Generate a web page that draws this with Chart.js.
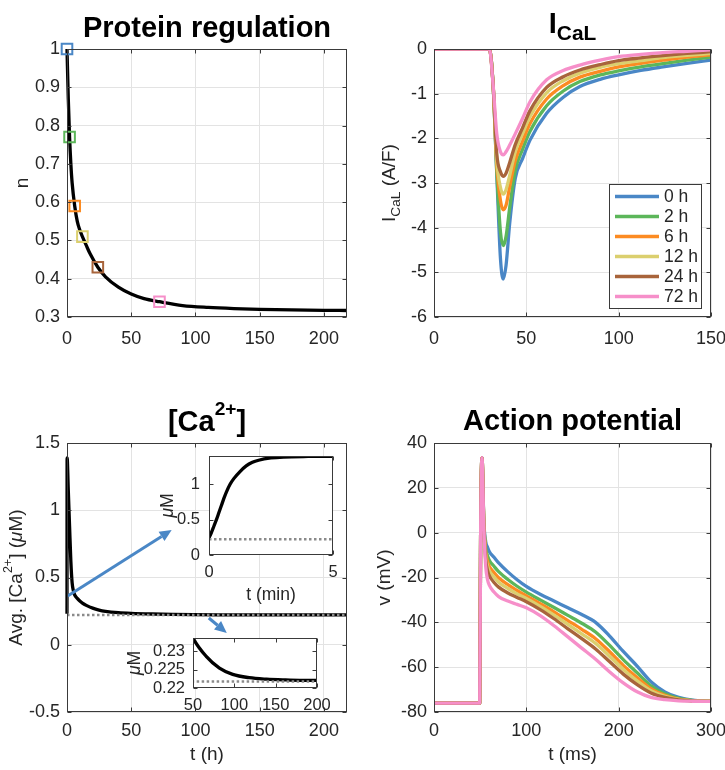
<!DOCTYPE html>
<html>
<head>
<meta charset="utf-8">
<script src="https://cdn.jsdelivr.net/npm/chart.js@4.4.1/dist/chart.umd.min.js"></script>
<style>
  html, body { margin: 0; padding: 0; background: #fff; }
  body { width: 725px; height: 770px; position: relative; overflow: hidden; }
  canvas { position: absolute; left: 0; top: 0; }
</style>
</head>
<body>
<canvas id="protein" width="800" height="850"></canvas>
<canvas id="ical" width="800" height="850"></canvas>
<canvas id="calcium" width="800" height="850"></canvas>
<canvas id="ap" width="800" height="850"></canvas>
<canvas id="insetMin" width="800" height="850"></canvas>
<canvas id="insetLate" width="800" height="850"></canvas>
<script>
// ---- data ----
const groupLabels = ['0 h', '2 h', '6 h', '12 h', '24 h', '72 h'];

// protein regulation factor n over time (h)
const nTime  = [0, 1, 2, 3, 4, 6, 8, 10, 12, 15, 18, 24, 30, 40, 50, 60, 72, 90, 110, 130, 150, 175, 200, 218];
const nValue = [1.0, 0.87, 0.77, 0.7, 0.65, 0.59, 0.55, 0.527, 0.51, 0.487, 0.465, 0.43, 0.405, 0.378, 0.36, 0.348, 0.34, 0.33, 0.325, 0.322, 0.32, 0.3185, 0.3175, 0.317];
const markerTime = [0, 2, 6, 12, 24, 72];
const markerN    = [1.0, 0.77, 0.59, 0.51, 0.43, 0.34];

// I_CaL (A/F) vs time (ms)
const icalTime = [0, 30, 32, 34, 36, 37.5, 39, 41, 44, 48, 52, 61, 70, 79, 90, 100, 112, 124, 137, 150];
const ical0h  = [0, 0, -0.8, -2.8, -4.7, -5.15, -4.85, -3.9, -2.9, -2.45, -2.04, -1.44, -1.08, -0.84, -0.68, -0.58, -0.48, -0.4, -0.32, -0.25];
const ical2h  = [0, 0, -0.8, -2.75, -4.1, -4.4, -4.2, -3.55, -2.72, -2.24, -1.84, -1.27, -0.94, -0.73, -0.58, -0.49, -0.4, -0.33, -0.25, -0.18];
const ical6h  = [0, 0, -0.8, -2.6, -3.4, -3.6, -3.5, -3.08, -2.5, -2.06, -1.67, -1.12, -0.82, -0.63, -0.5, -0.4, -0.32, -0.25, -0.18, -0.13];
const ical12h = [0, 0, -0.8, -2.5, -3.1, -3.25, -3.15, -2.83, -2.3, -1.89, -1.51, -0.98, -0.71, -0.54, -0.41, -0.33, -0.26, -0.19, -0.14, -0.1];
const ical24h = [0, 0, -0.8, -2.35, -2.75, -2.85, -2.78, -2.54, -2.14, -1.76, -1.38, -0.86, -0.62, -0.47, -0.35, -0.26, -0.2, -0.15, -0.1, -0.06];
const ical72h = [0, 0, -0.8, -1.9, -2.3, -2.37, -2.3, -2.15, -1.9, -1.55, -1.18, -0.69, -0.48, -0.36, -0.25, -0.17, -0.12, -0.08, -0.05, -0.02];

// average [Ca2+] (uM) vs time (h)
const caTime = [0, 0.08, 1, 2, 3, 4, 5, 6, 8, 10, 12, 15, 20, 25, 30, 40, 50, 66, 82, 98, 118, 139, 160, 179, 200, 218];
const caAvg  = [0.23, 1.39, 1.15, 0.88, 0.62, 0.46, 0.4, 0.37, 0.345, 0.325, 0.31, 0.293, 0.272, 0.258, 0.249, 0.239, 0.2336, 0.2286, 0.2254, 0.2237, 0.2228, 0.2224, 0.2222, 0.2221, 0.2221, 0.2221];
const caBaseline = 0.2218;
// first minutes (min)
const minTime = [0, 0.1, 0.2, 0.3, 0.4, 0.5, 0.6, 0.7, 0.85, 1, 1.25, 1.5, 1.75, 2, 2.5, 3, 4, 5];
const minCa   = [0.24, 0.32, 0.41, 0.5, 0.6, 0.7, 0.8, 0.89, 1.0, 1.08, 1.18, 1.26, 1.31, 1.34, 1.372, 1.386, 1.394, 1.396];
// arrows (data units of the [Ca2+] axes): tail -> head
const arrowTails = [[0.5, 0.362], [110.4, 0.199]];
const arrowHeads = [[81.5, 0.853], [124.4, 0.088]];

// action potential v (mV) vs time (ms)
const apTime = [0, 49.5, 50.5, 52, 54, 56, 58, 60, 65, 70, 80, 90, 100, 115, 130, 145, 160, 175, 190, 205, 220, 235, 250, 265, 280, 300];
const ap0h  = [-76, -76, 0, 33.5, 5, -4, -6.5, -8.5, -11, -13.5, -17.5, -21, -24, -27.5, -30.5, -33.5, -36.5, -40, -46, -53, -59.5, -66.5, -71, -73.5, -74.7, -75.2];
const ap2h  = [-76, -76, 0, 33.5, 4.2, -6.9, -10.3, -12.4, -15, -17.4, -20.9, -23.9, -26.5, -30, -33.4, -36.9, -40.4, -44.3, -50.2, -56.6, -62.5, -68.3, -71.9, -73.9, -74.8, -75.2];
const ap6h  = [-76, -76, 0, 33.5, 3.7, -8.8, -12.9, -15.1, -17.8, -20.1, -23.2, -25.8, -28.2, -31.7, -35.3, -39.2, -43.1, -47.3, -53, -59.2, -64.6, -69.6, -72.5, -74.2, -74.9, -75.2];
const ap12h = [-76, -76, 0, 33.5, 3.3, -10.3, -14.8, -17.1, -19.8, -22.1, -24.9, -27.3, -29.4, -32.9, -36.8, -40.9, -45.1, -49.4, -55.1, -61, -66.1, -70.5, -73, -74.4, -75, -75.2];
const ap24h = [-76, -76, 0, 33.5, 2.8, -11.9, -16.9, -19.3, -22.2, -24.3, -26.9, -28.9, -30.8, -34.3, -38.4, -42.9, -47.3, -51.9, -57.5, -63.1, -67.8, -71.5, -73.5, -74.6, -75.1, -75.3];
const ap72h = [-76, -76, 0, 33.5, 2, -15, -21, -23.5, -26.5, -28.5, -30.5, -32, -33.5, -37, -41.5, -46.5, -51.5, -56.5, -62, -67, -71, -73.5, -74.5, -75, -75.2, -75.3];

// tick values
const nTicksX = [0, 50, 100, 150, 200];
const nTicksY = [0.3, 0.4, 0.5, 0.6, 0.7, 0.8, 0.9, 1];
const icalTicksX = [0, 50, 100, 150];
const icalTicksY = [-6, -5, -4, -3, -2, -1, 0];
const caTicksX = [0, 50, 100, 150, 200];
const caTicksY = [-0.5, 0, 0.5, 1, 1.5];
const apTicksX = [0, 100, 200, 300];
const apTicksY = [-80, -60, -40, -20, 0, 20, 40];
const minTicksX = [0, 5];
const minTicksY = [0, 0.5, 1];
const lateTicksX = [50, 100, 150, 200];
const lateTicksY = [0.22, 0.225, 0.23];

// ---- styling ----
const W = 800, H = 850;
const FONT = '"Liberation Sans", Arial, Helvetica, sans-serif';
const INK = '#262626';
const COLORS = ['#4a87c6', '#5cb65a', '#fc8b22', '#dbcf6e', '#a8643b', '#f68fc9'];
const ARROW = '#4a87c6';
const LW = 3.3;

const pts = (xs, ys) => xs.map((x, i) => ({ x, y: ys[i] }));

// text with sub/superscripts, centred on (x, y) baseline
function rich(c, parts, x, y, size, weight, rotate, color) {
  const specs = parts.map(([t, k]) => {
    const s = k === 'sup' ? size * 0.66 : k === 'sub' ? size * 0.72 : size;
    return {
      t,
      font: `${k === 'it' ? 'italic ' : ''}${weight} ${s}px ${FONT}`,
      dy: k === 'sup' ? -size * 0.55 : k === 'sub' ? size * 0.25 : 0
    };
  });
  c.save();
  let total = 0;
  specs.forEach(p => { c.font = p.font; p.w = c.measureText(p.t).width; total += p.w; });
  c.translate(x, y);
  if (rotate) c.rotate(-Math.PI / 2);
  c.fillStyle = color;
  c.textAlign = 'left';
  c.textBaseline = 'alphabetic';
  let cx = -total / 2;
  specs.forEach(p => { c.font = p.font; c.fillText(p.t, cx, p.dy); cx += p.w; });
  c.restore();
}

const decor = {
  id: 'decor',
  beforeDraw(chart, args, o) {
    if (!o.fill) return;
    const a = chart.chartArea, c = chart.ctx;
    c.save();
    c.fillStyle = '#fff';
    c.fillRect(a.left, a.top, a.right - a.left, a.bottom - a.top);
    c.restore();
  },
  afterDatasetsDraw(chart, args, o) {
    if (!o.arrows) return;
    const c = chart.ctx, xs = chart.scales.x, ys = chart.scales.y;
    o.arrows.tails.forEach((tail, i) => {
      const head = o.arrows.heads[i];
      const x0 = xs.getPixelForValue(tail[0]), y0 = ys.getPixelForValue(tail[1]);
      const x1 = xs.getPixelForValue(head[0]), y1 = ys.getPixelForValue(head[1]);
      const ang = Math.atan2(y1 - y0, x1 - x0), hl = 12, hw = 5.5;
      const bx = x1 - hl * Math.cos(ang), by = y1 - hl * Math.sin(ang);
      c.save();
      c.strokeStyle = ARROW; c.fillStyle = ARROW; c.lineWidth = 3;
      c.beginPath(); c.moveTo(x0, y0); c.lineTo(bx, by); c.stroke();
      c.beginPath();
      c.moveTo(x1, y1);
      c.lineTo(bx + hw * Math.sin(ang), by - hw * Math.cos(ang));
      c.lineTo(bx - hw * Math.sin(ang), by + hw * Math.cos(ang));
      c.closePath(); c.fill();
      c.restore();
    });
  },
  afterDraw(chart, args, o) {
    const c = chart.ctx, a = chart.chartArea, xs = chart.scales.x, ys = chart.scales.y;
    // box with inward ticks on all sides
    const L = Math.round(a.left) + 0.5, T = Math.round(a.top) + 0.5;
    const R = Math.round(a.right) - 0.5, B = Math.round(a.bottom) - 0.5;
    c.save();
    c.strokeStyle = '#3a3a3a'; c.lineWidth = 1;
    c.strokeRect(L, T, R - L, B - T);
    c.beginPath();
    xs.ticks.forEach(t => {
      const p = Math.round(xs.getPixelForValue(t.value)) + 0.5;
      c.moveTo(p, B); c.lineTo(p, B - 4); c.moveTo(p, T); c.lineTo(p, T + 4);
    });
    ys.ticks.forEach(t => {
      const p = Math.round(ys.getPixelForValue(t.value)) + 0.5;
      c.moveTo(L, p); c.lineTo(L + 4, p); c.moveTo(R, p); c.lineTo(R - 4, p);
    });
    c.stroke();
    c.restore();

    const cxm = (a.left + a.right) / 2, cym = (a.top + a.bottom) / 2;
    const ls = o.labelSize || 19;
    if (o.title) rich(c, o.title, cxm, a.top + o.titleDy, 29, 'bold', false, '#000');
    if (o.xlabel) rich(c, o.xlabel, cxm, a.bottom + o.xlabelDy, ls, 'normal', false, INK);
    if (o.ylabel) rich(c, o.ylabel, a.left - o.ylabelDx, cym, ls, 'normal', true, INK);

    if (o.legend) {
      const w = 92, h = 124;
      const r = Math.round(a.right) - 10, b = Math.round(a.bottom) - 9;
      const l = r - w, t = b - h;
      c.save();
      c.fillStyle = '#fff';
      c.fillRect(l, t, w, h);
      c.strokeStyle = '#3a3a3a'; c.lineWidth = 1;
      c.strokeRect(l + 0.5, t + 0.5, w, h);
      c.font = `17.5px ${FONT}`;
      c.textBaseline = 'middle'; c.textAlign = 'left';
      chart.data.datasets.forEach((ds, i) => {
        const y = t + 12.5 + i * 20;
        c.strokeStyle = ds.borderColor; c.lineWidth = LW;
        c.beginPath(); c.moveTo(l + 6, y); c.lineTo(l + 50, y); c.stroke();
        c.fillStyle = INK;
        c.fillText(ds.label, l + 55, y + 1);
      });
      c.restore();
    }
  }
};

function axis(min, max, ticks, size, pad, grid, side) {
  return {
    type: 'linear', min, max,
    afterBuildTicks: s => { s.ticks = ticks.map(v => ({ value: v })); },
    afterFit: s => { if (side === 'x') s.height = 50; else s.width = 60; },
    ticks: {
      callback: v => String(v),
      font: { family: FONT, size }, color: INK,
      padding: pad, maxRotation: 0, autoSkip: false
    },
    grid: { display: grid, color: '#e3e3e3', lineWidth: 1, drawTicks: false },
    border: { display: false }
  };
}

function makeChart(id, area, datasets, xs, ys, deco) {
  const [l, t, r, b] = area;
  return new Chart(document.getElementById(id), {
    type: 'line',
    data: { datasets },
    options: {
      responsive: false, animation: false, events: [], devicePixelRatio: 1,
      layout: { padding: { left: l - 60, top: t, right: W - r, bottom: H - b - 50 } },
      scales: { x: xs, y: ys },
      elements: {
        point: { radius: 0 },
        line: { borderWidth: LW, cubicInterpolationMode: 'monotone', fill: false, borderCapStyle: 'butt', borderJoinStyle: 'round' }
      },
      plugins: { legend: { display: false }, tooltip: { enabled: false }, decor: deco }
    },
    plugins: [decor]
  });
}

// ---- Protein regulation ----
makeChart('protein', [67, 49, 347, 317], [
  {
    data: pts(markerTime, markerN), showLine: false, clip: false,
    pointStyle: 'rect', pointRadius: 7.5, pointBorderWidth: 2,
    pointBorderColor: COLORS, pointBackgroundColor: 'rgba(0,0,0,0)'
  },
  { data: pts(nTime, nValue), borderColor: '#000', clip: { left: 2, top: 2, right: 0, bottom: 2 } }
],
  axis(0, 218, nTicksX, 18, 11, true, 'x'),
  axis(0.3, 1, nTicksY, 18, 7, true, 'y'),
  { title: [['Protein regulation', '']], titleDy: -12, ylabel: [['n', '']], ylabelDx: 39 });

// ---- I_CaL ----
const icalSeries = [ical0h, ical2h, ical6h, ical12h, ical24h, ical72h];
makeChart('ical', [434, 49, 711, 317],
  icalSeries.map((vals, i) => ({
    label: groupLabels[i], data: pts(icalTime, vals), borderColor: COLORS[i], order: icalSeries.length - 1 - i
  })),
  axis(0, 150, icalTicksX, 18, 11, true, 'x'),
  axis(-6, 0, icalTicksY, 18, 7, true, 'y'),
  { title: [['I', ''], ['CaL', 'sub']], titleDy: -16,
    ylabel: [['I', ''], ['CaL', 'sub'], [' (A/F)', '']], ylabelDx: 39, legend: true });

// ---- [Ca2+] ----
makeChart('calcium', [67, 443, 347, 712], [
  { data: pts([caTime[0], caTime[caTime.length - 1]], [caBaseline, caBaseline]),
    borderColor: '#8a8a8a', borderWidth: 2.5, borderDash: [2.5, 2.5] },
  { data: pts(caTime, caAvg), borderColor: '#000', clip: { left: 2, top: 2, right: 0, bottom: 2 } }
],
  axis(0, 218, caTicksX, 18, 8, true, 'x'),
  axis(-0.5, 1.5, caTicksY, 18, 7, true, 'y'),
  { title: [['[Ca', ''], ['2+', 'sup'], [']', '']], titleDy: -12,
    xlabel: [['t (h)', '']], xlabelDy: 48,
    ylabel: [['Avg. [Ca', ''], ['2+', 'sup'], ['] (', ''], ['\u03bc', 'it'], ['M)', '']], ylabelDx: 45,
    arrows: { tails: arrowTails, heads: arrowHeads } });

// ---- Action potential ----
const apSeries = [ap0h, ap2h, ap6h, ap12h, ap24h, ap72h];
makeChart('ap', [434, 443, 711, 712],
  apSeries.map((vals, i) => ({
    label: groupLabels[i], data: pts(apTime, vals), borderColor: COLORS[i], order: apSeries.length - 1 - i
  })),
  axis(0, 300, apTicksX, 18, 8, true, 'x'),
  axis(-80, 40, apTicksY, 18, 7, true, 'y'),
  { title: [['Action potential', '']], titleDy: -13,
    xlabel: [['t (ms)', '']], xlabelDy: 48, ylabel: [['v (mV)', '']], ylabelDx: 44 });

// ---- inset: first minutes ----
makeChart('insetMin', [209, 456, 333, 555], [
  { data: pts([minTime[0], minTime[minTime.length - 1]], [caBaseline, caBaseline]),
    borderColor: '#8a8a8a', borderWidth: 2.5, borderDash: [2.5, 2.5] },
  { data: pts(minTime, minCa), borderColor: '#000' }
],
  axis(0, 5, minTicksX, 16.5, 8, false, 'x'),
  axis(0, 1.4, minTicksY, 16.5, 9, false, 'y'),
  { fill: true, labelSize: 17.5, xlabel: [['t (min)', '']], xlabelDy: 45,
    ylabel: [['\u03bc', 'it'], ['M', '']], ylabelDx: 36 });

// ---- inset: late phase ----
makeChart('insetLate', [193, 638, 317, 688], [
  { data: pts([caTime[0], caTime[caTime.length - 1]], [caBaseline, caBaseline]),
    borderColor: '#8a8a8a', borderWidth: 2.5, borderDash: [2.5, 2.5] },
  { data: pts(caTime, caAvg), borderColor: '#000' }
],
  axis(50, 200, lateTicksX, 16.5, 8, false, 'x'),
  axis(0.22, 0.2336, lateTicksY, 16.5, 8, false, 'y'),
  { fill: true, labelSize: 17.5, ylabel: [['\u03bc', 'it'], ['M', '']], ylabelDx: 53 });
</script>
</body>
</html>
